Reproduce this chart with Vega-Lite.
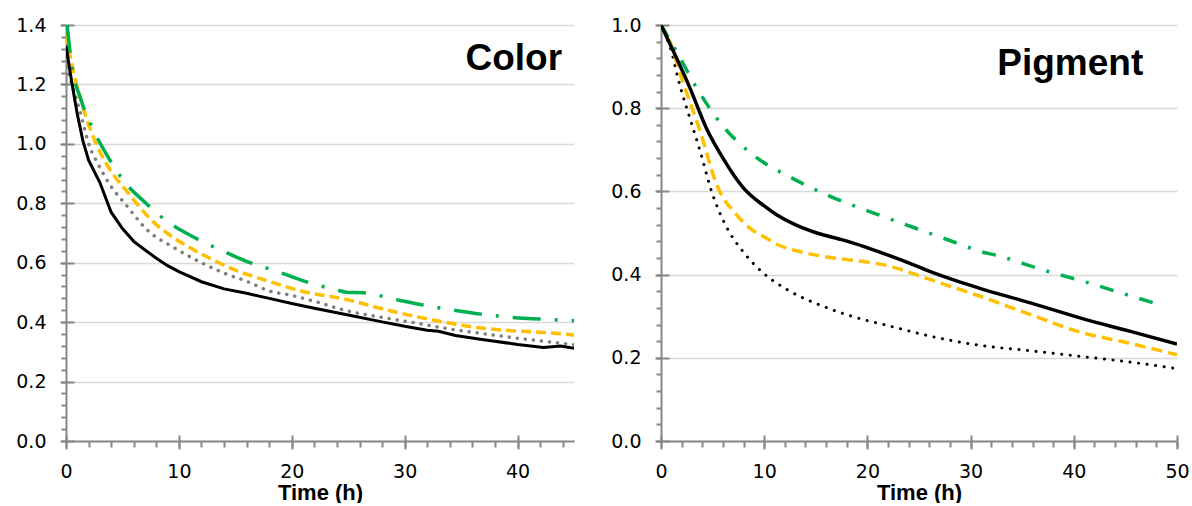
{
  "$schema": "https://vega.github.io/schema/vega-lite/v6.json",
  "background": "white",
  "padding": {"left": 15, "top": 16, "right": 0, "bottom": 0},
  "spacing": 36,
  "config": {
    "view": {"stroke": null},
    "font": "Liberation Sans",
    "axis": {
      "domainColor": "#878787", "domainWidth": 2,
      "tickColor": "#878787", "tickWidth": 2,
      "labelFont": "DejaVu Sans", "labelFontSize": 19, "labelColor": "#000",
      "gridColor": "#D9D9D9", "gridWidth": 1.5,
      "titleFont": "Liberation Sans", "titleFontSize": 22, "titleFontWeight": "bold", "titleColor": "#000",
      "labelFlush": false, "labelOverlap": false
    }
  },
  "datasets": {
    "color": [
      {"s":"solid","t":0,"v":1.33},{"s":"solid","t":0.5,"v":1.21},{"s":"solid","t":1,"v":1.1},{"s":"solid","t":1.5,"v":1.01},{"s":"solid","t":2,"v":0.945},{"s":"solid","t":3,"v":0.87},{"s":"solid","t":4,"v":0.77},{"s":"solid","t":5,"v":0.715},{"s":"solid","t":6,"v":0.672},{"s":"solid","t":7,"v":0.643},{"s":"solid","t":8,"v":0.615},{"s":"solid","t":9,"v":0.59},{"s":"solid","t":10,"v":0.57},{"s":"solid","t":12,"v":0.536},{"s":"solid","t":14,"v":0.512},{"s":"solid","t":16,"v":0.497},{"s":"solid","t":18,"v":0.48},{"s":"solid","t":20,"v":0.463},{"s":"solid","t":22,"v":0.447},{"s":"solid","t":25,"v":0.424},{"s":"solid","t":28,"v":0.401},{"s":"solid","t":30,"v":0.386},{"s":"solid","t":32,"v":0.373},{"s":"solid","t":33,"v":0.369},{"s":"solid","t":34.5,"v":0.355},{"s":"solid","t":37,"v":0.341},{"s":"solid","t":40,"v":0.325},{"s":"solid","t":42.3,"v":0.315},{"s":"solid","t":43.8,"v":0.32},{"s":"solid","t":45,"v":0.312},
      {"s":"dot","t":0,"v":1.26},{"s":"dot","t":0.3,"v":1.226},{"s":"dot","t":1.2,"v":1.114},{"s":"dot","t":2.1,"v":0.99},{"s":"dot","t":2.8,"v":0.935},{"s":"dot","t":4,"v":0.856},{"s":"dot","t":5.2,"v":0.8},{"s":"dot","t":7.2,"v":0.71},{"s":"dot","t":9.6,"v":0.65},{"s":"dot","t":12,"v":0.6},{"s":"dot","t":14,"v":0.565},{"s":"dot","t":16.1,"v":0.536},{"s":"dot","t":18,"v":0.505},{"s":"dot","t":20,"v":0.49},{"s":"dot","t":22,"v":0.47},{"s":"dot","t":25,"v":0.437},{"s":"dot","t":28,"v":0.416},{"s":"dot","t":30.85,"v":0.398},{"s":"dot","t":33.5,"v":0.38},{"s":"dot","t":36.8,"v":0.362},{"s":"dot","t":40,"v":0.346},{"s":"dot","t":42.7,"v":0.334},{"s":"dot","t":45,"v":0.324},
      {"s":"dash","t":0,"v":1.37},{"s":"dash","t":0.5,"v":1.27},{"s":"dash","t":1.3,"v":1.15},{"s":"dash","t":2.5,"v":1.015},{"s":"dash","t":3.7,"v":0.925},{"s":"dash","t":5.5,"v":0.835},{"s":"dash","t":7.8,"v":0.735},{"s":"dash","t":9.5,"v":0.685},{"s":"dash","t":11,"v":0.65},{"s":"dash","t":13,"v":0.61},{"s":"dash","t":15,"v":0.575},{"s":"dash","t":18,"v":0.537},{"s":"dash","t":20.8,"v":0.505},{"s":"dash","t":25,"v":0.475},{"s":"dash","t":28,"v":0.445},{"s":"dash","t":30.85,"v":0.42},{"s":"dash","t":33.5,"v":0.4},{"s":"dash","t":36.8,"v":0.38},{"s":"dash","t":40,"v":0.37},{"s":"dash","t":42.7,"v":0.364},{"s":"dash","t":45,"v":0.357},
      {"s":"dashdot","t":0.1,"v":1.4},{"s":"dashdot","t":0.45,"v":1.28},{"s":"dashdot","t":1.33,"v":1.148},{"s":"dashdot","t":2.36,"v":1.052},{"s":"dashdot","t":3.63,"v":0.962},{"s":"dashdot","t":5.16,"v":0.873},{"s":"dashdot","t":6.94,"v":0.805},{"s":"dashdot","t":9,"v":0.738},{"s":"dashdot","t":11.2,"v":0.688},{"s":"dashdot","t":13.7,"v":0.643},{"s":"dashdot","t":16.1,"v":0.603},{"s":"dashdot","t":18.75,"v":0.57},{"s":"dashdot","t":21.1,"v":0.538},{"s":"dashdot","t":23.8,"v":0.51},{"s":"dashdot","t":25,"v":0.5},{"s":"dashdot","t":26.3,"v":0.499},{"s":"dashdot","t":29.1,"v":0.477},{"s":"dashdot","t":31.6,"v":0.458},{"s":"dashdot","t":34.25,"v":0.441},{"s":"dashdot","t":36.75,"v":0.427},{"s":"dashdot","t":39.6,"v":0.416},{"s":"dashdot","t":42.1,"v":0.41},{"s":"dashdot","t":45,"v":0.405}
    ],
    "pigment": [
      {"s":"solid","t":0,"v":1.0},{"s":"solid","t":1.2,"v":0.937},{"s":"solid","t":2.8,"v":0.849},{"s":"solid","t":4.4,"v":0.752},{"s":"solid","t":6,"v":0.68},{"s":"solid","t":8,"v":0.608},{"s":"solid","t":10,"v":0.565},{"s":"solid","t":11.2,"v":0.544},{"s":"solid","t":13,"v":0.52},{"s":"solid","t":15.1,"v":0.5},{"s":"solid","t":17.5,"v":0.484},{"s":"solid","t":19.6,"v":0.468},{"s":"solid","t":21.2,"v":0.454},{"s":"solid","t":23.5,"v":0.433},{"s":"solid","t":26.1,"v":0.407},{"s":"solid","t":28.5,"v":0.386},{"s":"solid","t":30.9,"v":0.367},{"s":"solid","t":35.8,"v":0.332},{"s":"solid","t":40.6,"v":0.296},{"s":"solid","t":45.4,"v":0.264},{"s":"solid","t":50,"v":0.233},
      {"s":"dot","t":0,"v":1.0},{"s":"dot","t":1,"v":0.937},{"s":"dot","t":1.8,"v":0.857},{"s":"dot","t":2.8,"v":0.776},{"s":"dot","t":3.8,"v":0.696},{"s":"dot","t":4.9,"v":0.6},{"s":"dot","t":6.4,"v":0.512},{"s":"dot","t":7.8,"v":0.46},{"s":"dot","t":9.9,"v":0.404},{"s":"dot","t":12.5,"v":0.36},{"s":"dot","t":15.7,"v":0.324},{"s":"dot","t":19,"v":0.296},{"s":"dot","t":21.9,"v":0.278},{"s":"dot","t":26.1,"v":0.252},{"s":"dot","t":30.9,"v":0.23},{"s":"dot","t":35.8,"v":0.217},{"s":"dot","t":40.6,"v":0.2035},{"s":"dot","t":45.4,"v":0.19},{"s":"dot","t":50,"v":0.174},
      {"s":"dash","t":0,"v":1.0},{"s":"dash","t":0.7,"v":0.969},{"s":"dash","t":2.2,"v":0.857},{"s":"dash","t":3.8,"v":0.744},{"s":"dash","t":5.4,"v":0.616},{"s":"dash","t":7.3,"v":0.544},{"s":"dash","t":8.7,"v":0.51},{"s":"dash","t":10.2,"v":0.488},{"s":"dash","t":11.5,"v":0.47},{"s":"dash","t":13.5,"v":0.455},{"s":"dash","t":15.7,"v":0.444},{"s":"dash","t":18,"v":0.436},{"s":"dash","t":20,"v":0.43},{"s":"dash","t":22.2,"v":0.42},{"s":"dash","t":24,"v":0.406},{"s":"dash","t":26.1,"v":0.388},{"s":"dash","t":30.9,"v":0.348},{"s":"dash","t":35.8,"v":0.304},{"s":"dash","t":40.6,"v":0.262},{"s":"dash","t":45.4,"v":0.235},{"s":"dash","t":50,"v":0.207},
      {"s":"dashdot","t":0,"v":1.0},{"s":"dashdot","t":1.4,"v":0.941},{"s":"dashdot","t":3.45,"v":0.849},{"s":"dashdot","t":5.9,"v":0.76},{"s":"dashdot","t":8.9,"v":0.688},{"s":"dashdot","t":12.7,"v":0.632},{"s":"dashdot","t":16.5,"v":0.587},{"s":"dashdot","t":20.6,"v":0.548},{"s":"dashdot","t":24.6,"v":0.512},{"s":"dashdot","t":28.65,"v":0.476},{"s":"dashdot","t":30.9,"v":0.456},{"s":"dashdot","t":32.85,"v":0.444},{"s":"dashdot","t":36.9,"v":0.412},{"s":"dashdot","t":40.9,"v":0.384},{"s":"dashdot","t":45.1,"v":0.352},{"s":"dashdot","t":48,"v":0.33}
    ]
  },
  "hconcat": [
    {
      "width": 508, "height": 416,
      "data": {"name": "color"},
      "resolve": {"axis": {"x": "independent", "y": "independent"}},
      "layer": [
        {
          "transform": [{"filter": "datum.s === 'dot'"}],
          "mark": {"type": "line", "color": "#7F7F7F", "strokeWidth": 3.5, "strokeDash": [0.1, 8], "strokeCap": "round", "interpolate": "monotone", "clip": true},
          "encoding": {
            "x": {"field": "t", "type": "quantitative", "scale": {"domain": [0, 45], "nice": false, "zero": false},
                  "axis": {"orient": "bottom", "values": [0,2,4,6,8,10,12,14,16,18,20,22,24,26,28,30,32,34,36,38,40,42,44], "labels": false, "domain": false, "grid": false, "tickSize": 6, "title": null}},
            "y": {"field": "v", "type": "quantitative", "scale": {"domain": [0, 1.4], "nice": false},
                  "axis": {"orient": "left", "values": [0,0.04,0.08,0.12,0.16,0.2,0.24,0.28,0.32,0.36,0.4,0.44,0.48,0.52,0.56,0.6,0.64,0.68,0.72,0.76,0.8,0.84,0.88,0.92,0.96,1,1.04,1.08,1.12,1.16,1.2,1.24,1.28,1.32,1.36,1.4], "labels": false, "domain": false, "grid": false, "tickSize": 5, "title": null}}
          }
        },
        {
          "transform": [{"filter": "datum.s === 'dash'"}],
          "mark": {"type": "line", "color": "#FFC000", "strokeWidth": 3.5, "strokeDash": [10, 5], "interpolate": "monotone", "clip": true},
          "encoding": {
            "x": {"field": "t", "type": "quantitative", "axis": {"orient": "bottom", "values": [0,10,20,30,40], "labels": false, "domain": false, "grid": false, "tickSize": -6, "title": null}},
            "y": {"field": "v", "type": "quantitative", "axis": {"orient": "left", "values": [0,0.2,0.4,0.6,0.8,1,1.2,1.4], "labels": false, "domain": false, "grid": false, "tickSize": -8, "title": null}}
          }
        },
        {
          "transform": [{"filter": "datum.s === 'dashdot'"}],
          "mark": {"type": "line", "color": "#00B050", "strokeWidth": 3.5, "strokeDash": [28, 14, 3, 14], "interpolate": "monotone", "clip": true},
          "encoding": {
            "x": {"field": "t", "type": "quantitative", "axis": null},
            "y": {"field": "v", "type": "quantitative", "axis": null}
          }
        },
        {
          "transform": [{"filter": "datum.s === 'solid'"}],
          "mark": {"type": "line", "color": "#000000", "strokeWidth": 3, "interpolate": "linear", "clip": true},
          "encoding": {
            "x": {"field": "t", "type": "quantitative",
                  "axis": {"orient": "bottom", "values": [0,10,20,30,40], "tickSize": 8, "labelPadding": 13, "grid": false, "title": "Time (h)", "titlePadding": 1}},
            "y": {"field": "v", "type": "quantitative",
                  "axis": {"orient": "left", "values": [0,0.2,0.4,0.6,0.8,1,1.2,1.4], "format": ".1f", "tickSize": 6, "labelPadding": 14, "grid": true, "title": null}}
          }
        },
        {
          "data": {"values": [{"label": "Color"}]},
          "mark": {"type": "text", "align": "right", "baseline": "alphabetic", "font": "Liberation Sans", "fontSize": 37, "fontWeight": "bold", "color": "#000000"},
          "encoding": {
            "x": {"datum": 43.94, "type": "quantitative", "axis": null},
            "y": {"datum": 1.249, "type": "quantitative", "axis": null},
            "text": {"field": "label", "type": "nominal"}
          }
        }
      ]
    },
    {
      "width": 516, "height": 416,
      "data": {"name": "pigment"},
      "resolve": {"axis": {"x": "independent", "y": "independent"}},
      "layer": [
        {
          "transform": [{"filter": "datum.s === 'dot'"}],
          "mark": {"type": "line", "color": "#000000", "strokeWidth": 3, "strokeDash": [0.1, 8.5], "strokeCap": "round", "interpolate": "monotone", "clip": true},
          "encoding": {
            "x": {"field": "t", "type": "quantitative", "scale": {"domain": [0, 50], "nice": false, "zero": false},
                  "axis": {"orient": "bottom", "values": [0,2,4,6,8,10,12,14,16,18,20,22,24,26,28,30,32,34,36,38,40,42,44,46,48,50], "labels": false, "domain": false, "grid": false, "tickSize": 6, "title": null}},
            "y": {"field": "v", "type": "quantitative", "scale": {"domain": [0, 1.0], "nice": false},
                  "axis": {"orient": "left", "values": [0,0.04,0.08,0.12,0.16,0.2,0.24,0.28,0.32,0.36,0.4,0.44,0.48,0.52,0.56,0.6,0.64,0.68,0.72,0.76,0.8,0.84,0.88,0.92,0.96,1], "labels": false, "domain": false, "grid": false, "tickSize": 5, "title": null}}
          }
        },
        {
          "transform": [{"filter": "datum.s === 'dash'"}],
          "mark": {"type": "line", "color": "#FFC000", "strokeWidth": 3.5, "strokeDash": [11, 6], "interpolate": "monotone", "clip": true},
          "encoding": {
            "x": {"field": "t", "type": "quantitative", "axis": {"orient": "bottom", "values": [0,10,20,30,40,50], "labels": false, "domain": false, "grid": false, "tickSize": -6, "title": null}},
            "y": {"field": "v", "type": "quantitative", "axis": {"orient": "left", "values": [0,0.2,0.4,0.6,0.8,1], "labels": false, "domain": false, "grid": false, "tickSize": -8, "title": null}}
          }
        },
        {
          "transform": [{"filter": "datum.s === 'dashdot'"}],
          "mark": {"type": "line", "color": "#00B050", "strokeWidth": 3.5, "strokeDash": [14, 12, 3, 12], "interpolate": "monotone", "clip": true},
          "encoding": {
            "x": {"field": "t", "type": "quantitative", "axis": null},
            "y": {"field": "v", "type": "quantitative", "axis": null}
          }
        },
        {
          "transform": [{"filter": "datum.s === 'solid'"}],
          "mark": {"type": "line", "color": "#000000", "strokeWidth": 3.5, "interpolate": "monotone", "clip": true},
          "encoding": {
            "x": {"field": "t", "type": "quantitative",
                  "axis": {"orient": "bottom", "values": [0,10,20,30,40,50], "tickSize": 8, "labelPadding": 13, "grid": false, "title": "Time (h)", "titlePadding": 1}},
            "y": {"field": "v", "type": "quantitative",
                  "axis": {"orient": "left", "values": [0,0.2,0.4,0.6,0.8,1], "format": ".1f", "tickSize": 6, "labelPadding": 14, "grid": true, "title": null}}
          }
        },
        {
          "data": {"values": [{"label": "Pigment"}]},
          "mark": {"type": "text", "align": "right", "baseline": "alphabetic", "font": "Liberation Sans", "fontSize": 37, "fontWeight": "bold", "color": "#000000"},
          "encoding": {
            "x": {"datum": 46.73, "type": "quantitative", "axis": null},
            "y": {"datum": 0.8805, "type": "quantitative", "axis": null},
            "text": {"field": "label", "type": "nominal"}
          }
        }
      ]
    }
  ]
}
